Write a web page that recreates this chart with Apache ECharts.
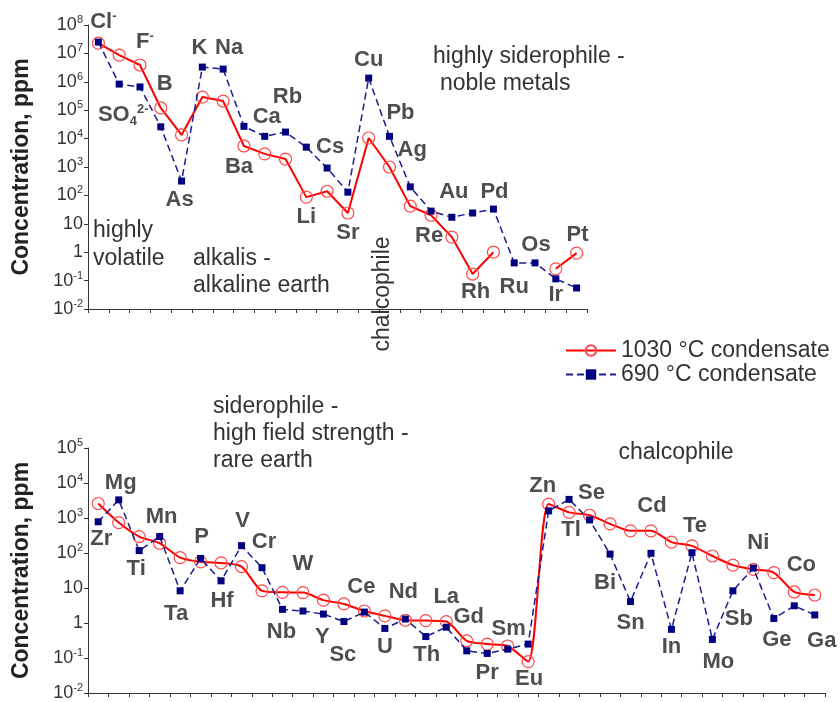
<!DOCTYPE html>
<html>
<head>
<meta charset="utf-8">
<script src="https://cdn.jsdelivr.net/npm/echarts@6/dist/echarts.min.js"></script>
<style>
html,body{margin:0;padding:0;background:#fff;}
#chart{width:840px;height:702px;}
</style>
</head>
<body>
<div id="chart"></div>
<script>
// ---------------- DATA ----------------
const topCategories = ['Cl','SO4','F','B','As','K','Na','Ba','Ca','Rb','Li','Cs','Sr','Cu','Pb','Ag','Re','Au','Rh','Pd','Ru','Os','Ir','Pt'];
const top1030 = [2.3e7, 8.7e6, 3.9e6, 1.2e5, 1.35e4, 2.9e5, 2.1e5, 5.5e3, 2.9e3, 1.9e3, 87, 140, 24, 1.05e4, 1000, 42, 20, 3.4, 0.17, 1.0, null, null, 0.26, 0.93];
const top690  = [2.5e7, 8.3e5, 6.6e5, 2.6e4, 320, 3.3e6, 2.8e6, 2.7e4, 1.2e4, 1.7e4, 5000, 920, 130, 1.35e6, 1.2e4, 200, 28, 17, 24, 33, 0.42, 0.42, 0.115, 0.055];

const bottomCategories = ['Zr','Mg','Ti','Mn','Ta','P','Hf','V','Cr','Nb','W','Y','Sc','Ce','U','Nd','Th','La','Gd','Pr','Sm','Eu','Zn','Tl','Se','Bi','Sn','Cd','In','Te','Mo','Sb','Ni','Ge','Co','Ga'];
const bottom1030 = [2600, 740, 295, 190, 74, 56, 52, 41, 8.3, 7.5, 7.4, 4.5, 3.5, 2.2, 1.6, 1.2, 1.17, 1.1, 0.31, 0.25, 0.22, 0.079, 2500, 1450, 1200, 680, 430, 430, 205, 160, 82, 45, 34, 27.5, 7.7, 6.3];
const bottom690  = [780, 3300, 117, 295, 8.3, 70, 16, 162, 38, 2.45, 2.2, 1.8, 1.1, 2.05, 0.7, 1.3, 0.41, 0.76, 0.16, 0.135, 0.18, 0.25, 1600, 3400, 880, 93, 4.1, 98, 0.66, 102, 0.34, 8.3, 37, 1.35, 3.1, 1.7];

const seriesNames = ['1030 \u00b0C condensate', '690 \u00b0C condensate'];
const topTickExponents = [-2,-1,0,1,2,3,4,5,6,7,8];
const bottomTickExponents = [-2,-1,0,1,2,3,4,5];
const yAxisName = 'Concentration, ppm';

// ---------------- LAYOUT / STYLE ----------------
// label placement: [attached series ('r' = 1030, 'b' = 690), dx, dy]
const topLabelLayout = {Cl:['b',5,-20], SO4:['b',4,31], F:['r',5,-23], B:['r',4,-24], As:['b',-2,19], K:['b',-3,-19], Na:['b',6,-21], Ba:['r',-5,21], Ca:['b',2,-19], Rb:['b',2,-35], Li:['r',0,20], Cs:['b',3,-21], Sr:['r',0,20], Cu:['b',0,-18], Pb:['b',11,-23], Ag:['b',2,-37], Re:['r',-2,21], Au:['b',2,-25], Rh:['r',3,18], Pd:['b',1,-17], Ru:['b',0,24], Os:['b',1,-18], Ir:['b',0,16], Pt:['r',1,-18]};
const bottomLabelLayout = {Zr:['b',3,17], Mg:['b',2,-17], Ti:['b',-3,18], Mn:['b',2,-20], Ta:['b',-4,23], P:['b',1,-21], Hf:['b',1,20], V:['b',1,-25], Cr:['b',2,-26], Nb:['b',-1,23], W:['r',0,-29], Y:['b',-1,23], Sc:['b',-1,33], Ce:['r',-3,-24], U:['b',0,19], Nd:['b',-2,-27], Th:['b',1,18], La:['r',0,-25], Gd:['r',2,-24], Pr:['b',0,19], Sm:['r',1,-17], Eu:['r',1,17], Zn:['r',-6,-18], Tl:['r',2,18], Se:['r',2,-22], Bi:['b',-5,29], Sn:['b',0,21], Cd:['r',1,-25], In:['b',0,18], Te:['r',3,-20], Mo:['b',6,23], Sb:['b',6,28], Ni:['r',5,-26], Ge:['b',3,21], Co:['r',7,-27], Ga:['b',7,26]};
const richNames = {Cl:'{b|Cl}{sp|-}', F:'{b|F}{sp|-}', SO4:'{b|SO}{sb|4}{sp|2-}'};

const FONT = "'Liberation Sans', Arial, Helvetica, sans-serif";
const RED = '#ff0000', RED_SYM = '#ff4a4a', BLUE = '#000080', BLUE_LINE = '#1c1c8f';
const TXT = '#333333', LBL = '#222222';

function tickFormatter(v){
  const e = Math.round(Math.log10(v));
  if (e === 0) return '{n|1}';
  if (e === 1) return '{n|10}';
  return '{n|10}{s|' + e + '}';
}
const tickRich = {
  n:{fontSize:18, fontFamily:FONT, color:TXT, lineHeight:21},
  s:{fontSize:11, fontFamily:FONT, color:TXT, lineHeight:11, verticalAlign:'top'}
};
const labelRich = {
  b:{fontSize:22, fontWeight:'bold', fontFamily:FONT, color:LBL, lineHeight:25},
  sp:{fontSize:13, fontWeight:'bold', fontFamily:FONT, color:LBL, lineHeight:13, verticalAlign:'top'},
  sb:{fontSize:13, fontWeight:'bold', fontFamily:FONT, color:LBL, lineHeight:13, verticalAlign:'bottom'}
};

function labelSeries(cats, red, blue, layout, axisIdx){
  const data = cats.map((c, i) => {
    const L = layout[c];
    const v = L[0] === 'r' ? red[i] : blue[i];
    return {name: c, value: [i, v], label: {offset: [L[1], L[2]]}};
  });
  return {
    type:'scatter', xAxisIndex:axisIdx, yAxisIndex:axisIdx, symbolSize:0, silent:true, z:10,
    data: data,
    label:{show:true, position:'inside', align:'center', verticalAlign:'middle',
      formatter: p => richNames[p.name] || ('{b|' + p.name + '}'), rich: labelRich}
  };
}

function xAxis(cats, idx){
  return {type:'category', gridIndex:idx, data:cats, boundaryGap:true,
    axisLine:{lineStyle:{color:'#333', width:1}},
    axisTick:{show:true, inside:false, length:4, interval:0, lineStyle:{color:'#333'}},
    axisLabel:{show:false}, splitLine:{show:false}};
}
function yAxis(max, idx, exps){
  return {type:'log', logBase:10, gridIndex:idx, min:0.01, max:max, interval:1,
    name:yAxisName, nameLocation:'middle', nameGap:55,
    nameTextStyle:{fontSize:23, fontWeight:'bold', fontFamily:FONT, color:LBL},
    axisLine:{show:true, lineStyle:{color:'#333', width:1}},
    axisTick:{show:true, length:4, lineStyle:{color:'#333'}},
    minorTick:{show:false}, splitLine:{show:false},
    axisLabel:{margin:5, formatter: v => {
      const e = Math.round(Math.log10(v));
      return exps.indexOf(e) >= 0 ? tickFormatter(v) : '';
    }, rich:tickRich}};
}

function redSeries(data, idx, smooth){
  return {name:seriesNames[0], type:'line', xAxisIndex:idx, yAxisIndex:idx, data:data,
    connectNulls:false, smooth:smooth, symbol:'circle', symbolSize:12, showAllSymbol:true,
    lineStyle:{color:RED, width:2},
    itemStyle:{color:'rgba(255,255,255,0)', borderColor:RED_SYM, borderWidth:1.2},
    z:2};
}
function blueSeries(data, idx){
  return {name:seriesNames[1], type:'line', xAxisIndex:idx, yAxisIndex:idx, data:data,
    symbol:'rect', symbolSize:7, showAllSymbol:true,
    lineStyle:{color:BLUE_LINE, width:1.5, type:[7,4]},
    itemStyle:{color:BLUE},
    z:3};
}

function txt(text, x, y, opts){
  return Object.assign({type:'text', x:x, y:y, silent:true,
    style:{text:text, font:'23px ' + FONT, fill:TXT, textAlign:'left', textVerticalAlign:'middle'}}, opts||{});
}

const chart = echarts.init(document.getElementById('chart'), null, {renderer:'canvas'});
chart.setOption({
  animation:false,
  backgroundColor:'#ffffff',
  grid:[
    {left:88, top:25, width:499, height:284},
    {left:88, top:448, width:737, height:245}
  ],
  legend:{
    data:seriesNames, orient:'vertical', left:560, top:334,
    itemWidth:50, itemHeight:13, itemGap:1,
    textStyle:{fontSize:23, fontFamily:FONT, color:TXT, lineHeight:23}
  },
  xAxis:[xAxis(topCategories,0), xAxis(bottomCategories,1)],
  yAxis:[yAxis(1e8,0,topTickExponents), yAxis(1e5,1,bottomTickExponents)],
  series:[
    redSeries(top1030,0,false), blueSeries(top690,0),
    redSeries(bottom1030,1,0.25), blueSeries(bottom690,1),
    labelSeries(topCategories, top1030, top690, topLabelLayout, 0),
    labelSeries(bottomCategories, bottom1030, bottom690, bottomLabelLayout, 1)
  ],
  graphic:[
    txt('highly siderophile -', 433, 57),
    txt('noble metals', 440, 84),
    txt('highly', 93, 231),
    txt('volatile', 93, 259),
    txt('alkalis -', 193, 259),
    txt('alkaline earth', 193, 286),
    txt('chalcophile', 383, 294, {rotation:Math.PI/2, style:{text:'chalcophile', font:'23px ' + FONT, fill:TXT, textAlign:'center', textVerticalAlign:'middle'}}),
    txt('siderophile -', 213, 407),
    txt('high field strength -', 213, 434),
    txt('rare earth', 213, 461),
    txt('chalcophile', 676, 453, {style:{text:'chalcophile', font:'23px ' + FONT, fill:TXT, textAlign:'center', textVerticalAlign:'middle'}})
  ]
});
</script>
</body>
</html>
